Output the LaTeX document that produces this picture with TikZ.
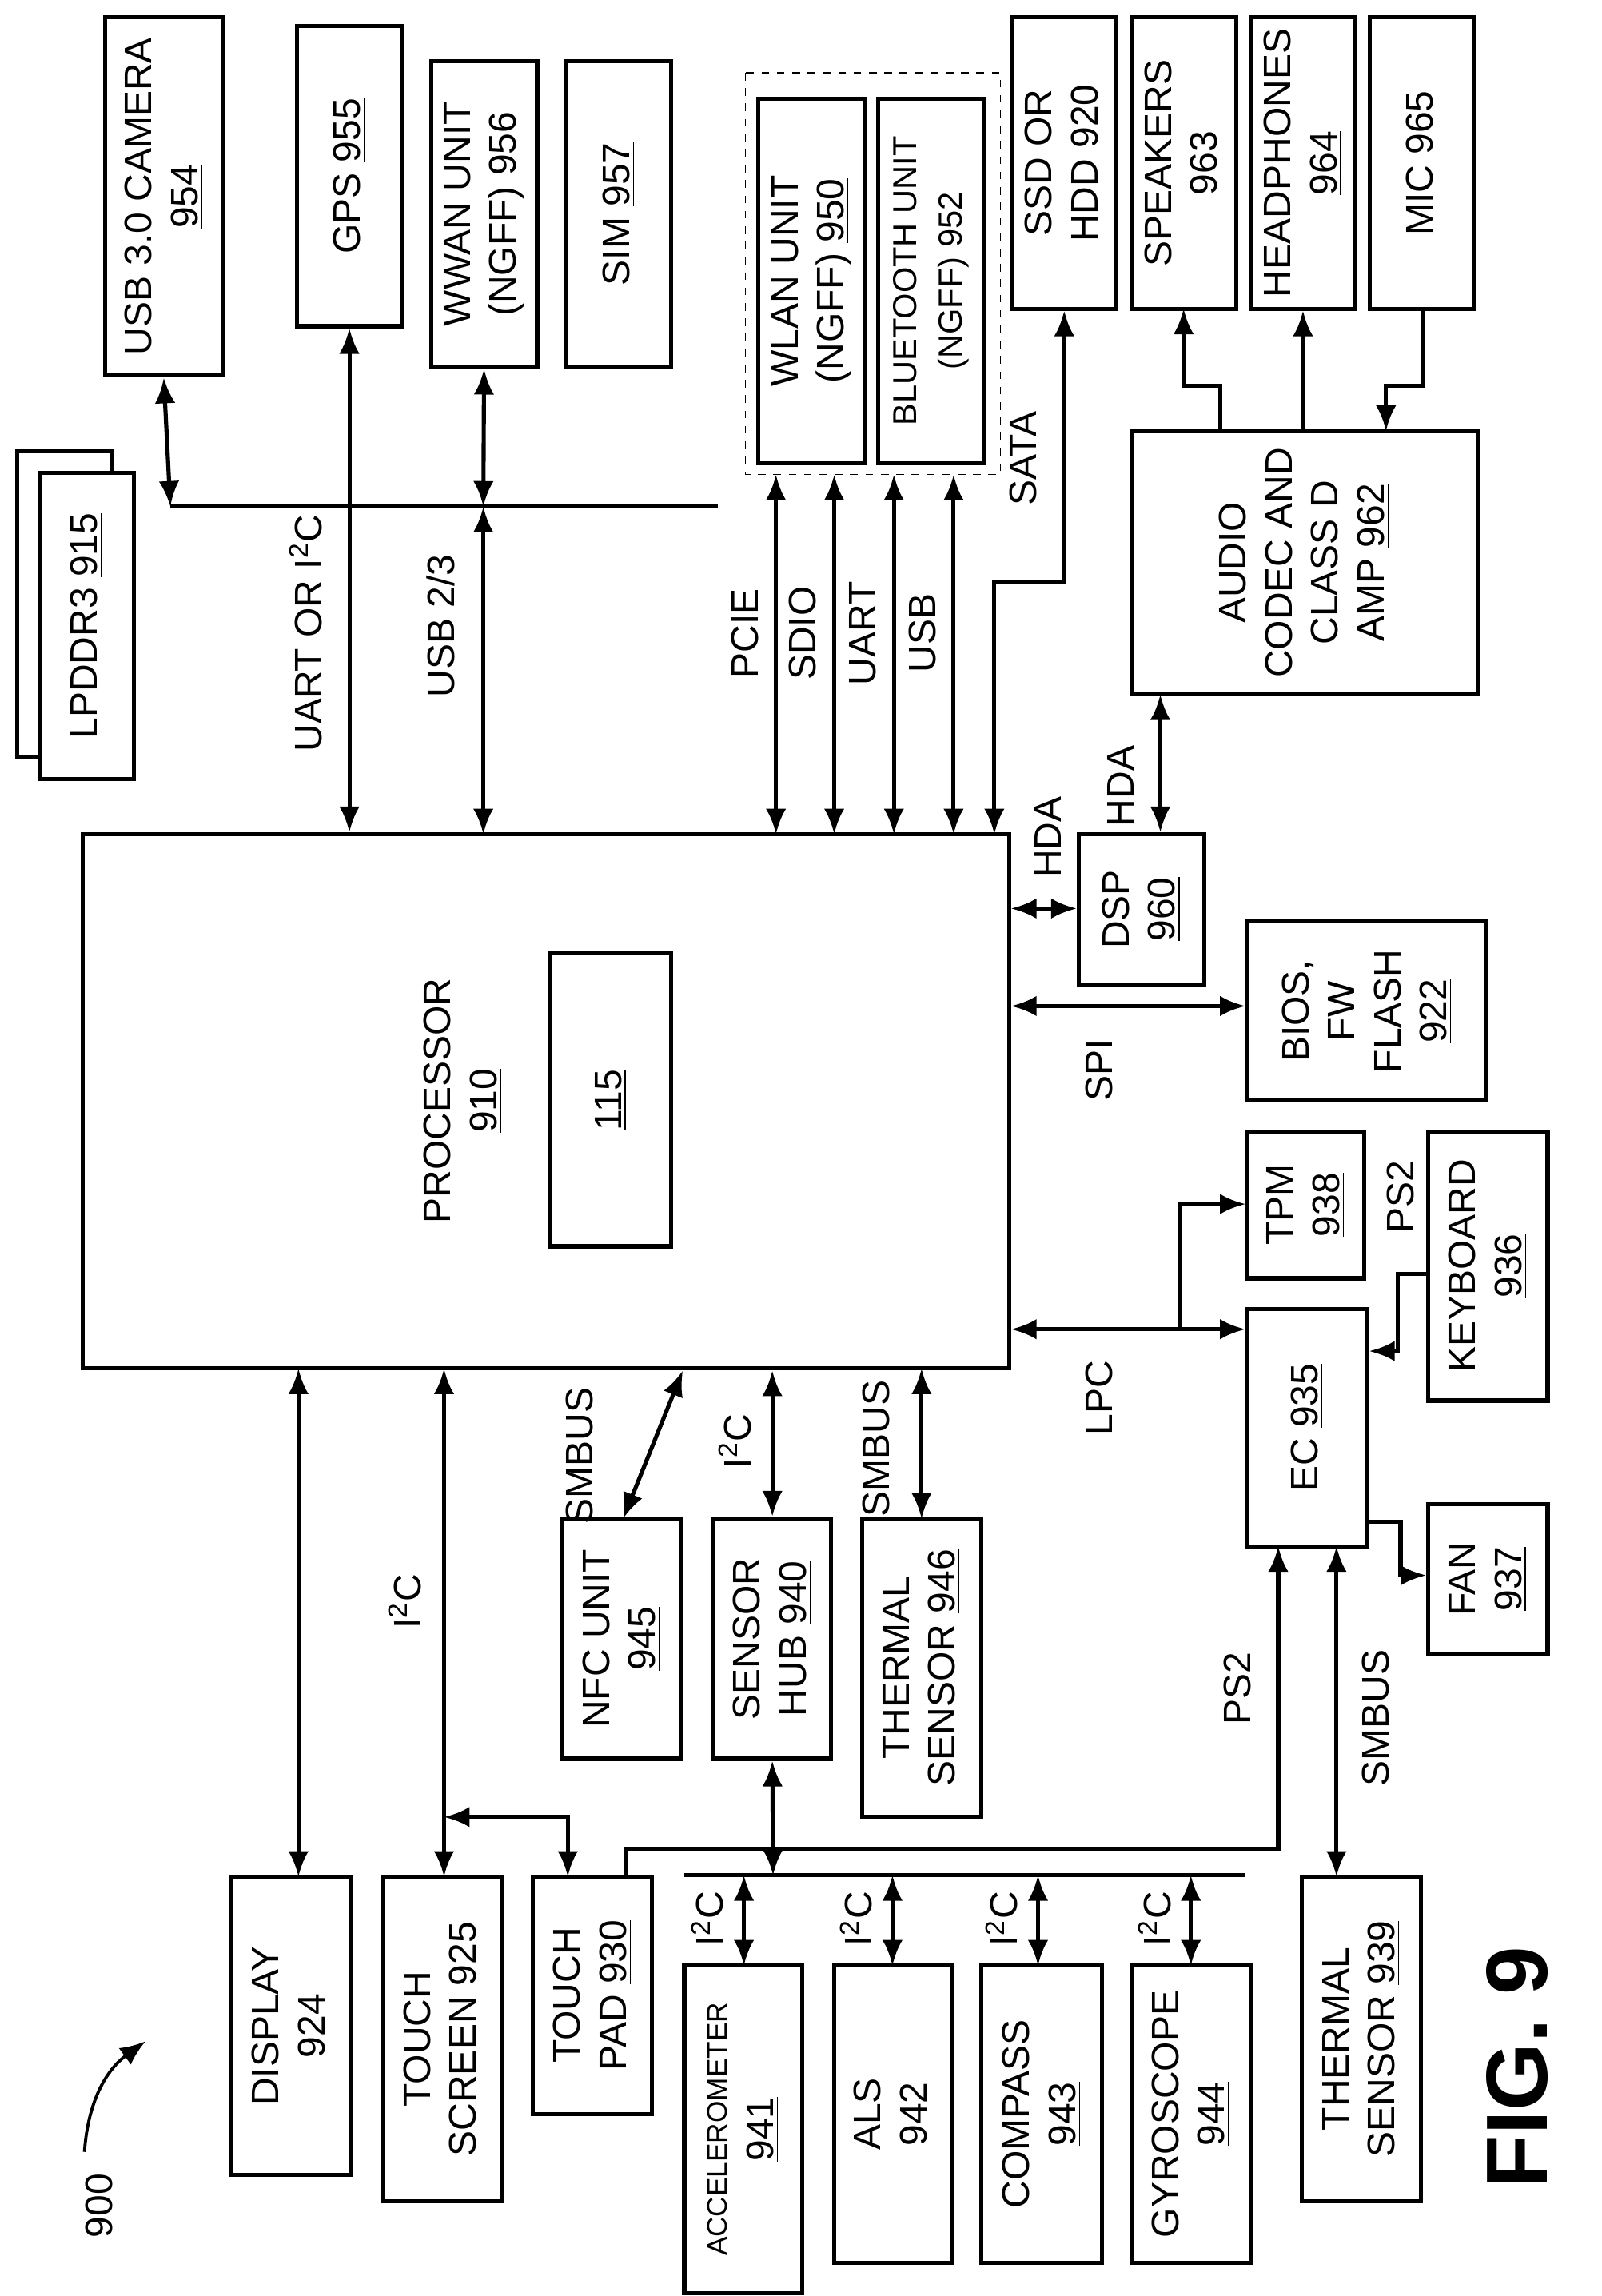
\documentclass[tikz,border=0pt]{standalone}
\usepackage{fontspec}
\setmainfont{Liberation Sans}
\usetikzlibrary{arrows.meta,fit,positioning}
\tikzset{
  blk/.style={draw, line width=1.6pt, inner sep=0pt},
  lbl/.style={rotate=90, align=center, font=\fontsize{15}{18}\selectfont},
  bus/.style={line width=1.6pt, {Latex[length=10pt,width=8pt]}-{Latex[length=10pt,width=8pt]}},
  onew/.style={line width=1.6pt, -{Latex[length=10pt,width=8pt]}},
  wire/.style={line width=1.6pt}
}
\newcommand{\blk}[6]{%
  \node[blk, fit={(#2,#3) (#4,#5)}] (#1) {};
  \node[lbl] at (#1.center) {#6};}
\newcommand{\ic}{I\textsuperscript{2}C}
\begin{document}
\begin{tikzpicture}[x=0.2mm, y=-0.2mm]
  \useasboundingbox (0,0) rectangle (1100,1577);
  % top row
  \blk{cam}{72}{12}{153}{258}{USB 3.0 CAMERA\\\underline{954}}
  \blk{gps}{204}{18}{276}{224}{GPS \underline{955}}
  \blk{wwan}{296}{42}{369}{252}{WWAN UNIT\\(NGFF) \underline{956}}
  \blk{sim}{389}{42}{461}{252}{SIM \underline{957}}
  \draw[dashed, thin] (512,50) rectangle (687,326);
  \blk{wlan}{521}{68}{594}{318}{WLAN UNIT\\(NGFF) \underline{950}}
  \blk{bt}{603}{68}{676}{318}{{\fontsize{13}{17}\selectfont BLUETOOTH UNIT}\\{\fontsize{13}{17}\selectfont (NGFF) \underline{952}}}
  \blk{ssd}{695}{12}{767}{212}{SSD OR\\HDD \underline{920}}
  \blk{spk}{777}{12}{849}{212}{SPEAKERS\\\underline{963}}
  \blk{hp}{859}{12}{931}{212}{HEADPHONES\\\underline{964}}
  \blk{mic}{941}{12}{1013}{212}{MIC \underline{965}}
  % memory
  \draw[blk, fill=white] (12,310) rectangle (77,520);
  \node[blk, fill=white, fit={(27,325) (92,535)}] (mem) {};
  \node[lbl] at (mem.center) {LPDDR3 \underline{915}};
  \blk{codec}{777}{296}{1015}{477}{AUDIO\\CODEC AND\\CLASS D\\AMP \underline{962}}
  % processor
  \blk{proc}{57}{573}{693}{940}{}
  \node[lbl] at (318,756) {PROCESSOR\\\underline{910}};
  \blk{core}{378}{655}{461}{856}{\underline{115}}
  \blk{dsp}{741}{573}{827}{676}{DSP\\\underline{960}}
  \blk{bios}{857}{633}{1021}{756}{BIOS,\\FW\\FLASH\\\underline{922}}
  \blk{tpm}{857}{777}{937}{878}{TPM\\\underline{938}}
  \blk{kbd}{981}{777}{1063}{962}{KEYBOARD\\\underline{936}}
  \blk{ec}{857}{899}{939}{1062}{EC \underline{935}}
  \blk{fan}{981}{1033}{1063}{1136}{FAN\\\underline{937}}
  \blk{nfc}{386}{1043}{468}{1208}{NFC UNIT\\\underline{945}}
  \blk{hub}{490}{1043}{571}{1208}{SENSOR\\HUB \underline{940}}
  \blk{ths}{592}{1043}{674}{1248}{THERMAL\\SENSOR \underline{946}}
  % bottom row
  \blk{disp}{159}{1289}{241}{1494}{DISPLAY\\\underline{924}}
  \blk{tsc}{263}{1289}{345}{1512}{TOUCH\\SCREEN \underline{925}}
  \blk{tpad}{366}{1289}{448}{1452}{TOUCH\\PAD \underline{930}}
  \blk{acc}{470}{1350}{551}{1575}{{\fontsize{11}{17}\selectfont ACCELEROMETER}\\\underline{941}}
  \blk{als}{573}{1350}{654}{1554}{ALS\\\underline{942}}
  \blk{cmp}{674}{1350}{757}{1554}{COMPASS\\\underline{943}}
  \blk{gyr}{777}{1350}{859}{1554}{GYROSCOPE\\\underline{944}}
  \blk{thb}{894}{1289}{976}{1512}{THERMAL\\SENSOR \underline{939}}
  % top buses
  \draw[wire] (117,348) -- (493,348);
  \draw[bus] (cam.south) -- (117,348);
  \draw[bus] (gps.south) -- (gps.south |- proc.north);
  \draw[bus] (wwan.south) -- (332,348);
  \draw[bus] (332,348) -- (332,573);
  \node[lbl] at (210,435) {UART OR \ic};
  \node[lbl] at (303,430) {USB 2/3};
  \foreach \x/\t in {533/PCIE, 573/SDIO, 614/UART, 655/USB} {
    \draw[bus] (\x,326) -- (\x,573);
    \node[lbl, anchor=south] at (\x-6,435) {\t};
  }
  \draw[bus] (ssd.south) -- (731,400) -- (683,400) -- (683,573);
  \node[lbl] at (703,315) {SATA};
  % audio
  \draw[onew] (838,296) -- (838,265) -- (813,265) -- (813,212);
  \draw[onew] (codec.north -| hp.south) -- (hp.south);
  \draw[onew] (mic.south) -- (977,265) -- (952,265) -- (952,296);
  \draw[bus] (dsp.north -| 797,0) -- (797,477);
  \node[lbl] at (770,540) {HDA};
  \draw[bus] (proc.east |- 0,624) -- (dsp.west |- 0,624);
  \node[lbl] at (720,575) {HDA};
  \draw[bus] (proc.east |- 0,691) -- (bios.west |- 0,691);
  \node[lbl] at (755,735) {SPI};
  \draw[bus] (proc.east |- 0,913) -- (ec.west |- 0,913);
  \node[lbl] at (755,960) {LPC};
  \draw[onew] (810,913) -- (810,827) -- (tpm.west |- 0,827);
  \draw[onew] (kbd.west |- 0,875) -- (960,875) -- (960,928) -- (ec.east |- 0,928);
  \node[lbl] at (962,822) {PS2};
  \draw[onew] (ec.east |- 0,1045) -- (962,1045) -- (962,1082) -- (fan.west |- 0,1082);
  % processor to lower blocks
  \draw[bus] (proc.south -| nfc.north) ++(42,0) -- (428,1043);
  \node[lbl] at (398,1000) {SMBUS};
  \draw[bus] (hub.north |- proc.south) -- (hub.north);
  \node[lbl] at (505,990) {\ic};
  \draw[bus] (633,940) -- (633,1043);
  \node[lbl] at (602,995) {SMBUS};
  \draw[bus] (205,940) -- (205,1289);
  \draw[bus] (305,940) -- (305,1289);
  \node[lbl] at (278,1100) {\ic};
  \draw[bus] (305,1248) -- (390,1248) -- (390,1289);
  % sensor bus
  \draw[wire] (470,1288) -- (855,1288);
  \draw[bus] (hub.south) -- (531,1288);
  \foreach \x/\n in {511/acc, 613/als, 713/cmp, 818/gyr} {
    \draw[bus] (\x,1288) -- (\x,1350);
    \node[lbl] at (\x-25,1318) {\ic};
  }
  \draw[onew] (430,1289) -- (430,1270) -- (878,1270) -- (878,1062);
  \node[lbl] at (850,1160) {PS2};
  \draw[bus] (918,1062) -- (918,1289);
  \node[lbl] at (945,1180) {SMBUS};
  % figure marks
  \node[lbl] at (68,1515) {900};
  \draw[onew, line width=1.2pt] (58,1478) to[bend left=25] (100,1402);
  \node[rotate=90, font=\fontsize{34}{40}\selectfont\bfseries] at (1042,1420) {FIG. 9};
\end{tikzpicture}
\end{document}
